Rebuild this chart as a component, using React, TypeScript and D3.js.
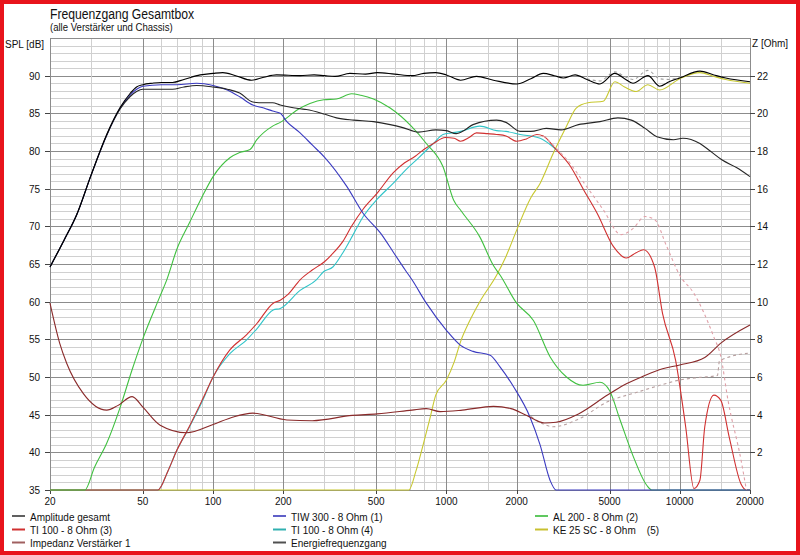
import { useRef, useEffect } from "react";
import * as d3 from "d3";

type Pt = [number, number];

// axis ticks
const freqTicks = [20, 50, 100, 200, 500, 1000, 2000, 5000, 10000, 20000];
const splTicks = [35, 40, 45, 50, 55, 60, 65, 70, 75, 80, 85, 90];
const ohmTicks = [2, 4, 6, 8, 10, 12, 14, 16, 18, 20, 22];
const gridMult = [1, 1.5, 2, 3, 4, 5, 6, 7, 8, 9];

// SPL curves [Hz, dB]
const amplitudeGesamt: Pt[] = [
  [20, 64.6], [23, 68.2], [26, 71.5], [30, 76.8], [35, 82.2], [40, 85.8], [44, 87.6],
  [47, 88.5], [50, 88.8], [55, 89], [60, 89.1], [67, 89.1], [75, 89.5], [88, 90.1], [100, 90.3],
  [110, 90.4], [125, 90], [146, 89.4], [165, 89.8], [187, 90.1], [236, 90], [271, 90.1], [300, 90],
  [333, 89.9], [386, 90.3], [450, 90.2], [505, 90.4], [600, 90.2], [712, 90], [800, 90.3], [900, 90.4],
  [1000, 90.1], [1150, 89.4], [1345, 89.9], [1590, 89.4], [2000, 88.9], [2300, 89.6], [2600, 90.3],
  [2900, 90], [3170, 89.7], [3560, 90.1], [4000, 89.5], [4550, 88.9], [5270, 90.3], [5800, 89.6],
  [6300, 89], [7300, 90], [8200, 88.6], [9000, 89.2], [10000, 89.7], [12200, 90.6], [14000, 90.1],
  [15750, 89.7], [20000, 89.2],
];
const energieFrequenzgang: Pt[] = [
  [20, 64.6], [23, 68.2], [26, 71.5], [30, 76.8], [35, 82.1], [40, 85.6], [44, 87.2],
  [47, 87.9], [50, 88.2], [60, 88.2], [67, 88.2], [75, 88.5], [85, 88.7], [100, 88.5], [115, 88.2],
  [130, 87.7], [148, 86.5], [165, 86.4], [180, 86.4], [194, 86.1], [207, 85.9], [236, 85.6],
  [251, 85.5], [300, 84.9], [338, 84.4], [400, 84.1], [487, 83.9], [574, 83.5], [650, 83.1],
  [760, 82.5], [900, 82.8], [1000, 82.7], [1100, 82.3], [1200, 82.8], [1300, 83.5], [1640, 84.1],
  [1800, 83.8], [2070, 82.6], [2300, 82.6], [2680, 83], [3100, 82.8], [3680, 83.5], [4550, 83.9],
  [5430, 84.4], [6200, 84.1], [7100, 83], [7980, 81.9], [9400, 81.5], [10300, 81.7], [12200, 81],
  [13500, 80], [15200, 78.8], [17500, 77.8], [20000, 76.6],
];
const tiw300: Pt[] = [
  [20, 64.6], [23, 68.2], [26, 71.5], [30, 76.8], [35, 82.1], [40, 85.7], [44, 87.4],
  [47, 88.2], [50, 88.6], [60, 88.8], [70, 88.8], [85, 89], [100, 88.7], [115, 88.1], [130, 87.2],
  [148, 86.1], [165, 85.7], [180, 85.3], [194, 85], [207, 83.9], [236, 82.4], [266, 80.8],
  [300, 79.2], [374, 75.3], [440, 71.7], [522, 69.1], [600, 66.3], [666, 64.2], [712, 62.9],
  [820, 59.8], [1000, 56.2], [1150, 54.2], [1300, 53.4], [1540, 52.9], [1700, 51.3], [1940, 48.7],
  [2280, 44.7], [2520, 41], [2780, 36.3], [2950, 35], [20000, 35],
];
const al200: Pt[] = [
  [20, 35], [28.2, 35], [31, 38], [35, 41.2], [40, 46], [45, 51], [50.3, 55.3], [59, 60.6],
  [63.3, 62.9], [70, 67], [79, 70.4], [90, 74], [100, 76.6], [118, 79.1], [130, 79.8], [144, 80.2],
  [154, 81.5], [180, 83.3], [194, 83.8], [231, 85.5], [260, 86.3], [298, 86.8], [338, 86.9],
  [392, 87.6], [430, 87.4], [487, 86.9], [574, 85.7], [707, 83.3], [820, 81], [967, 77.9],
  [1073, 73.5], [1159, 72], [1390, 68.6], [1590, 64.8], [1700, 63.5], [2000, 59.8], [2360, 57.5],
  [2780, 52.7], [3270, 50], [3850, 48.9], [4550, 49.3], [5000, 48.2], [5550, 44.3], [6330, 39.4],
  [7230, 35.6], [7600, 35], [20000, 35],
];
const ti100a: Pt[] = [
  [20, 35], [58, 35], [64, 37.5], [70, 40.3], [79, 43.4], [90, 47], [100, 50], [118, 53.6],
  [139, 55.6], [154, 57.1], [181, 59.8], [194, 60.2], [210, 61], [236, 62.9], [266, 64.2],
  [300, 65.3], [326, 66.4], [360, 68], [392, 70], [440, 72.3], [505, 74.4], [591, 77.1],
  [660, 78.4], [735, 79.3], [800, 80.2], [880, 81], [988, 81.8], [1080, 81.7], [1150, 81.3],
  [1250, 81.8], [1345, 82.4], [1500, 82.3], [1640, 82.2], [1800, 82], [2000, 81.3], [2200, 81.6],
  [2440, 82.2], [2600, 82], [2950, 80.2], [3360, 78.2], [3880, 74.8], [4430, 71.7], [5200, 67.3],
  [5900, 65.8], [6500, 66.5], [7000, 66.9], [7800, 64.6], [8440, 58.4], [9600, 52.2], [10600, 43.4],
  [11500, 35.2], [12200, 36.3], [12800, 43.4], [14000, 47.6], [15000, 46.9], [16300, 42],
  [18300, 35.8], [19300, 35], [20000, 35],
];
const ti100b: Pt[] = [
  [20, 35], [58, 35], [64, 37.5], [70, 40.3], [79, 43.3], [90, 46.8], [100, 50], [118, 53.1],
  [139, 54.9], [154, 56.4], [181, 58.9], [194, 59.1], [236, 61.5], [277, 62.9], [298, 64],
  [326, 64.6], [360, 66.5], [400, 69], [440, 71.3], [505, 73.6], [591, 75.7], [660, 77.3],
  [760, 79.1], [880, 81], [967, 82.2], [1050, 82.4], [1150, 82.6], [1390, 83.3], [1640, 82.7],
  [1800, 82.6], [2070, 82.2], [2520, 81.7], [2800, 80.8], [2950, 80.2],
];
const ke25sc: Pt[] = [
  [20, 35], [690, 35], [740, 37.5], [790, 40.7], [850, 44.5], [900, 47.6], [1000, 49.6],
  [1080, 52], [1150, 54.7], [1260, 57.5], [1390, 60], [1640, 63.5], [1800, 66], [2000, 69.5],
  [2300, 73.8], [2520, 75.7], [2870, 79.7], [3270, 83.3], [3600, 85.7], [4040, 86.4], [4700, 86.6],
  [5270, 89.2], [5800, 88.5], [6500, 87.9], [7300, 88.8], [8200, 88.1], [10000, 89.6],
  [12200, 90.4], [14000, 89.9], [15750, 89.5], [20000, 89],
];
// dashed overlays
const ampOverlay: Pt[] = [
  [4000, 89.6], [4550, 89.3], [5270, 90.5], [5800, 89.9], [6300, 89.5], [7300, 90.7],
  [8200, 89.6], [9000, 89.5], [10000, 89.8],
];
const ti100Overlay: Pt[] = [
  [2600, 82], [2950, 80.4], [3360, 78.5], [3880, 75.8], [4700, 72.2], [5600, 68.9], [6300, 69.7],
  [7100, 71.3], [7800, 70.9], [8800, 67.3], [10000, 63.5], [11500, 61.1], [14000, 55.3],
  [15000, 52.7], [16100, 46.9], [18300, 39], [19300, 35],
];

// impedance [Hz, Ohm]
const impedanz: Pt[] = [
  [20, 9.92], [22, 7.8], [23.6, 6.72], [27.8, 5.12], [35, 4.24], [39, 4.48], [45, 4.96], [50, 4.4],
  [59.3, 3.44], [77, 3.04], [100, 3.48], [122, 3.88], [148, 4.08], [207, 3.72], [266, 3.68],
  [395, 3.96], [505, 4.04], [712, 4.24], [820, 4.32], [940, 4.16], [1170, 4.24], [1590, 4.44],
  [1890, 4.32], [2210, 3.96], [2630, 3.56], [2950, 3.6], [3680, 4.04], [4900, 5.04], [5740, 5.56],
  [6970, 6.04], [8440, 6.44], [10000, 6.64], [12800, 7.04], [15000, 7.8], [20000, 8.76],
];
const impedanzOverlay: Pt[] = [
  [2300, 3.9], [2600, 3.5], [2870, 3.36], [3680, 3.76], [4900, 4.68], [6600, 5.2], [8440, 5.6],
  [10000, 5.84], [12200, 5.98], [14500, 6.08], [14800, 6.85], [20000, 7.28],
];

const legendLabels = [
  "Amplitude gesamt", "TI 100 - 8 Ohm (3)", "Impedanz Verstärker 1",
  "TIW 300 - 8 Ohm (1)", "TI 100 - 8 Ohm (4)", "Energiefrequenzgang",
  "AL 200 - 8 Ohm (2)", "KE 25 SC - 8 Ohm    (5)",
];
const legendColors = ["#606060", "#d03030", "#a06060", "#6060c8", "#30b0b0", "#505050", "#60c860", "#c8c030"];

const FONT = "'Liberation Sans', Arial, sans-serif";
const SQ = 0.87;

export default function App() {
  const svgRef = useRef<SVGSVGElement>(null);

  useEffect(() => {
    const svg = d3.select(svgRef.current);
    svg.selectAll("*").remove();

    const x = d3.scaleLog().domain([20, 20000]).range([50, 750]);
    const y = d3.scaleLinear().domain([35, 95]).range([490, 38]);
    const yZ = d3.scaleLinear().domain([0, 24]).range([490, 38]);

    svg.append("rect").attr("width", 800).attr("height", 555).attr("fill", "#fff");

    const text = (tx: number, ty: number, s: string, size: number, anchor = "start") =>
      svg.append("text")
        .attr("transform", `translate(${tx},${ty}) scale(${SQ},1)`)
        .attr("font-family", FONT)
        .attr("font-size", size)
        .attr("text-anchor", anchor)
        .attr("fill", "#111")
        .text(s);

    // grid
    const grid = svg.append("g").attr("shape-rendering", "crispEdges");
    for (let v = 36; v < 95; v++) {
      grid.append("line")
        .attr("x1", 50).attr("x2", 750).attr("y1", Math.round(y(v)) + 0.5).attr("y2", Math.round(y(v)) + 0.5)
        .attr("stroke", v % 5 === 0 ? "#8c8c8c" : "#d0d0d0");
    }
    const minorF: number[] = [];
    [10, 100, 1000, 10000].forEach((d) => gridMult.forEach((m) => {
      const f = d * m;
      if (f > 20 && f < 20000) minorF.push(f);
    }));
    minorF.forEach((f) => {
      grid.append("line")
        .attr("y1", 38).attr("y2", 490).attr("x1", Math.round(x(f)) + 0.5).attr("x2", Math.round(x(f)) + 0.5)
        .attr("stroke", freqTicks.includes(f) ? "#8c8c8c" : "#d0d0d0");
    });
    grid.append("rect").attr("x", 50.5).attr("y", 38.5).attr("width", 700).attr("height", 451.5)
      .attr("fill", "none").attr("stroke", "#8c8c8c");

    // ticks + labels
    splTicks.forEach((v) => {
      grid.append("line").attr("x1", 45).attr("x2", 50).attr("y1", Math.round(y(v)) + 0.5).attr("y2", Math.round(y(v)) + 0.5).attr("stroke", "#444");
      text(40, y(v) + 4, String(v), 11.5, "end");
    });
    ohmTicks.forEach((v) => {
      grid.append("line").attr("x1", 750).attr("x2", 755).attr("y1", Math.round(yZ(v)) + 0.5).attr("y2", Math.round(yZ(v)) + 0.5).attr("stroke", "#444");
      text(757, yZ(v) + 4, String(v), 11.5, "start");
    });
    freqTicks.forEach((f) => {
      grid.append("line").attr("x1", Math.round(x(f)) + 0.5).attr("x2", Math.round(x(f)) + 0.5).attr("y1", 490).attr("y2", 494).attr("stroke", "#444");
      text(x(f), 505, String(f), 11.5, "middle");
    });

    text(50, 18.5, "Frequenzgang Gesamtbox", 14);
    text(50, 31, "(alle Verstärker und Chassis)", 11);
    text(5, 48, "SPL [dB]", 11.5);
    text(752, 47, "Z [Ohm]", 11.5);

    // curves
    const line = d3.line<Pt>().x((d) => x(d[0])).y((d) => y(d[1])).curve(d3.curveMonotoneX);
    const lineZ = d3.line<Pt>().x((d) => x(d[0])).y((d) => yZ(d[1])).curve(d3.curveMonotoneX);
    const plot = svg.append("g").attr("fill", "none").attr("stroke-width", 1.1);

    const draw = (path: string | null, color: string, dash?: string) =>
      plot.append("path").attr("d", path).attr("stroke", color).attr("stroke-dasharray", dash ?? null);

    draw(line(ke25sc), "#c8c830");
    draw(line(ti100b), "#30c4c8");
    draw(line(ti100a), "#d03030");
    draw(line(al200), "#40c040");
    draw(line(tiw300), "#3a3ac0");
    draw(lineZ(impedanzOverlay), "#b8a0a0", "3,3");
    draw(lineZ(impedanz), "#8a2a2a");
    draw(line(ti100Overlay), "#e0a0a8", "3,3");
    draw(line(ampOverlay), "#a0a0a0", "3,3");
    draw(line(energieFrequenzgang), "#262626");
    draw(line(amplitudeGesamt), "#000");

    // legend
    const colX = [12, 273, 535];
    legendLabels.forEach((s, i) => {
      const cx = colX[Math.floor(i / 3)];
      const cy = [516, 529.5, 542.5][i % 3];
      svg.append("line").attr("x1", cx).attr("x2", cx + 13).attr("y1", cy).attr("y2", cy)
        .attr("stroke", legendColors[i]).attr("stroke-width", 2);
      text(cx + 18, cy + 4.5, s, 11.5).attr("xml:space", "preserve").style("white-space", "pre");
    });

    // red frame
    svg.append("rect").attr("x", 2).attr("y", 2).attr("width", 796).attr("height", 551)
      .attr("fill", "none").attr("stroke", "#e8141c").attr("stroke-width", 4);
  }, []);

  return (
    <svg
      ref={svgRef}
      width={800}
      height={555}
      style={{ position: "absolute", left: 0, top: 0, display: "block" }}
    />
  );
}
